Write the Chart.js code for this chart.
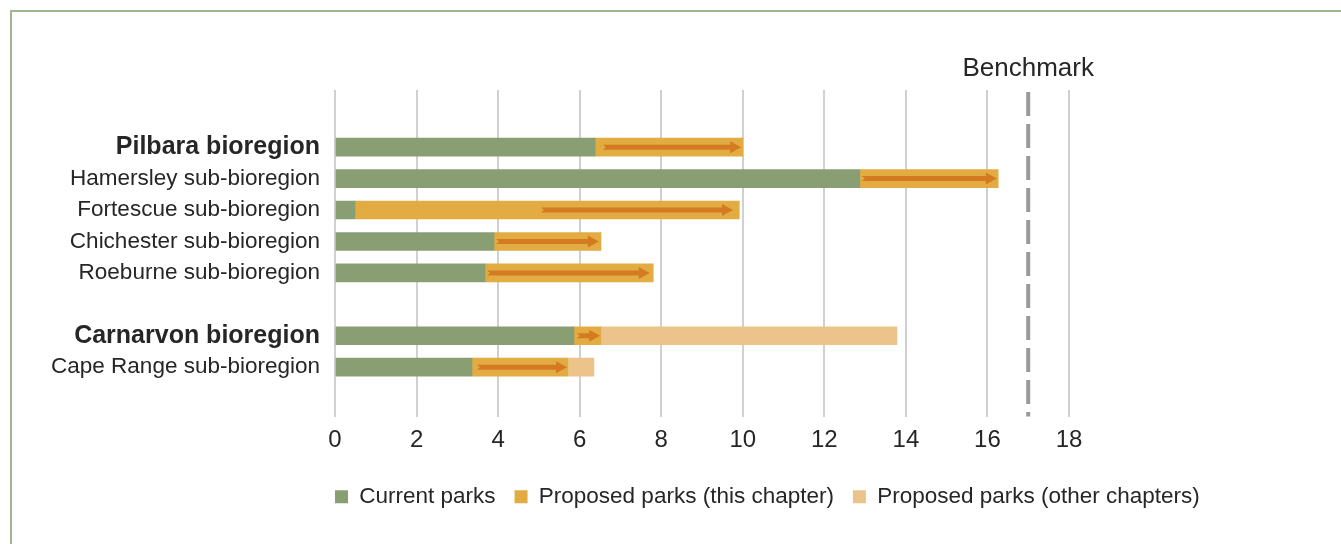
<!DOCTYPE html>
<html lang="en">
<head>
    <meta charset="UTF-8">
    <title>Conservation reserves by bioregion</title>
    <script src="https://cdn.jsdelivr.net/npm/chart.js"></script>
    <style>
        html, body { margin: 0; padding: 0; background: #fff; overflow: hidden; }
        .frame {
            position: absolute; left: 10px; top: 10px;
            width: 1400px; height: 600px;
            border: 2px solid #a3b68e;
        }
        .chart-box { position: absolute; left: 0; top: 0; width: 1341px; height: 544px; }
    </style>
</head>
<body>
<div class="frame"></div>
<div class="chart-box">
    <canvas id="parksChart"></canvas>
</div>
<script>
    // rows of the chart, top to bottom; row 5 stays empty between the two bioregions
    const categories = [
        'Pilbara bioregion',
        'Hamersley sub-bioregion',
        'Fortescue sub-bioregion',
        'Chichester sub-bioregion',
        'Roeburne sub-bioregion',
        'Carnarvon bioregion',
        'Cape Range sub-bioregion'
    ];
    const rowIndex = [0, 1, 2, 3, 4, 6, 7];
    const isBioregion = [true, false, false, false, false, true, false];

    // percentage of area in parks
    const currentParks = [6.38, 12.87, 0.49, 3.90, 3.68, 5.86, 3.36];
    const thisChapter = [3.62, 3.39, 9.42, 2.62, 4.12, 0.66, 2.35];
    const otherChapters = [0, 0, 0, 0, 0, 7.26, 0.64];

    // arrows showing the increase proposed in this chapter
    const arrowFrom = [6.57, 12.92, 5.05, 3.95, 3.73, 5.93, 3.48];
    const arrowTo = [9.96, 16.23, 9.76, 6.47, 7.72, 6.50, 5.69];

    const benchmark = 17;
    const benchmarkLabel = 'Benchmark';
    const xTickStep = 2;
    const xMax = 18;

    const FONT = "'Liberation Sans', Arial, sans-serif";
    const TEXT = '#262626';

    function rows(values) {
        return values.map((v, i) => ({ x: v, y: rowIndex[i] }));
    }

    // dark orange arrows drawn over the "this chapter" segment
    const arrowPlugin = {
        id: 'arrows',
        afterDatasetsDraw(chart) {
            const ctx = chart.ctx;
            const xs = chart.scales.x, ys = chart.scales.y;
            ctx.save();
            ctx.fillStyle = '#d47a22';
            for (let i = 0; i < rowIndex.length; i++) {
                const x1 = xs.getPixelForValue(arrowFrom[i]);
                const x2 = xs.getPixelForValue(arrowTo[i]);
                const y = ys.getPixelForValue(rowIndex[i]);
                const shaft = 2.5, head = 6, headLen = Math.min(11, (x2 - x1) * 0.6), notch = 3;
                ctx.beginPath();
                ctx.moveTo(x1, y - shaft);
                ctx.lineTo(x2 - headLen, y - shaft);
                ctx.lineTo(x2 - headLen, y - head);
                ctx.lineTo(x2, y);
                ctx.lineTo(x2 - headLen, y + head);
                ctx.lineTo(x2 - headLen, y + shaft);
                ctx.lineTo(x1, y + shaft);
                ctx.lineTo(x1 + notch, y);
                ctx.closePath();
                ctx.fill();
            }
            ctx.restore();
        }
    };

    // dashed benchmark line with its label above the plot
    const benchmarkPlugin = {
        id: 'benchmark',
        afterDatasetsDraw(chart) {
            const ctx = chart.ctx;
            const area = chart.chartArea;
            const x = chart.scales.x.getPixelForValue(benchmark);
            ctx.save();
            ctx.strokeStyle = '#9a9a9a';
            ctx.lineWidth = 4;
            ctx.setLineDash([24, 8]);
            ctx.beginPath();
            ctx.moveTo(x, area.top + 2);
            ctx.lineTo(x, area.bottom);
            ctx.stroke();
            ctx.setLineDash([]);
            ctx.fillStyle = TEXT;
            ctx.font = '26px ' + FONT;
            ctx.textAlign = 'center';
            ctx.textBaseline = 'middle';
            ctx.fillText(benchmarkLabel, x, area.top - 21);
            ctx.restore();
        }
    };

    // line the legend up with the left edge of the plot
    const legendAlignPlugin = {
        id: 'legendAlign',
        afterLayout(chart) {
            const lg = chart.legend;
            const dx = chart.chartArea.left - lg.options.labels.padding - lg.left;
            lg.left += dx;
            lg.right += dx;
        }
    };

    const ctx = document.getElementById('parksChart').getContext('2d');
    const parksChart = new Chart(ctx, {
        type: 'bar',
        data: {
            datasets: [
                { label: 'Current parks', data: rows(currentParks), backgroundColor: '#8a9e74' },
                { label: 'Proposed parks (this chapter)', data: rows(thisChapter), backgroundColor: '#e2ac42' },
                { label: 'Proposed parks (other chapters)', data: rows(otherChapters), backgroundColor: '#ecc48b' }
            ]
        },
        options: {
            indexAxis: 'y',
            responsive: true,
            maintainAspectRatio: false,
            animation: false,
            datasets: { bar: { barThickness: 18, borderWidth: 0 } },
            layout: { padding: { top: 90, right: 272, bottom: 26, left: 0 } },
            scales: {
                x: {
                    type: 'linear',
                    stacked: true,
                    min: 0,
                    max: xMax,
                    ticks: {
                        stepSize: xTickStep,
                        color: TEXT,
                        padding: 9,
                        font: { family: FONT, size: 24 }
                    },
                    grid: { color: '#d0d0d0', lineWidth: 2, drawTicks: false },
                    border: { display: false },
                    afterFit: axis => { axis.height = 50; }
                },
                y: {
                    type: 'linear',
                    stacked: true,
                    reverse: true,
                    offset: false,
                    min: -1.82,
                    max: 8.57,
                    afterBuildTicks: axis => { axis.ticks = rowIndex.map(v => ({ value: v })); },
                    afterFit: axis => { axis.width = 335; },
                    ticks: {
                        autoSkip: false,
                        padding: 7,
                        color: TEXT,
                        callback: (value, index) => categories[index],
                        font: c => isBioregion[c.index]
                            ? { family: FONT, size: 25, weight: 'bold' }
                            : { family: FONT, size: 22.5 }
                    },
                    grid: { display: false },
                    border: { display: false }
                }
            },
            plugins: {
                legend: {
                    position: 'bottom',
                    align: 'start',
                    labels: {
                        boxWidth: 13,
                        boxHeight: 13,
                        padding: 19,
                        color: TEXT,
                        font: { family: FONT, size: 22.5 }
                    }
                },
                tooltip: { enabled: false }
            }
        },
        plugins: [arrowPlugin, benchmarkPlugin, legendAlignPlugin]
    });
</script>
</body>
</html>
